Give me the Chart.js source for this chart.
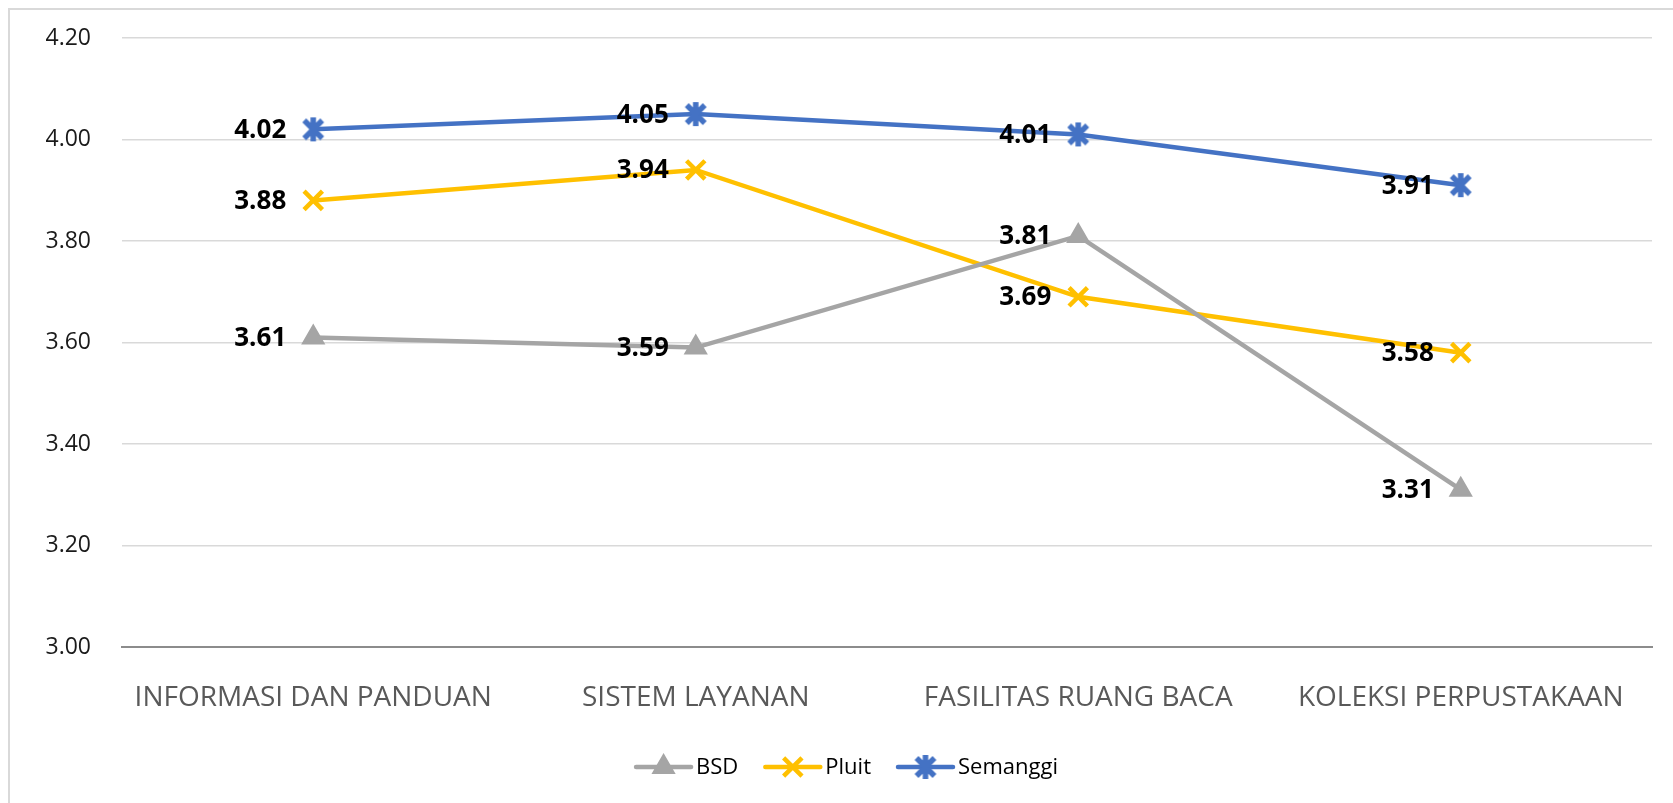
<!DOCTYPE html>
<html lang="id">
<head>
    <meta charset="UTF-8">
    <meta name="viewport" content="width=device-width, initial-scale=1.0">
    <title>Perbandingan Layanan Perpustakaan</title>
    <script src="https://cdnjs.cloudflare.com/ajax/libs/Chart.js/4.4.1/chart.umd.js"></script>
    <style>
        body {
            margin: 0;
            background: #ffffff;
        }
        #chartWrap {
            width: 1673px;
            height: 803px;
        }
    </style>
</head>
<body>
    <div id="chartWrap">
        <canvas id="libraryChart" width="1673" height="803"></canvas>
    </div>

    <script>
        // Data
        const categories = ['INFORMASI DAN PANDUAN', 'SISTEM LAYANAN', 'FASILITAS RUANG BACA', 'KOLEKSI PERPUSTAKAAN'];
        const bsdValues = [3.61, 3.59, 3.81, 3.31];
        const pluitValues = [3.88, 3.94, 3.69, 3.58];
        const semanggiValues = [4.02, 4.05, 4.01, 3.91];
        const yTicks = [3.00, 3.20, 3.40, 3.60, 3.80, 4.00, 4.20];

        const colors = {
            bsd: '#A5A5A5',
            pluit: '#FFC000',
            semanggi: '#4472C4'
        };

        const FONT = "'Open Sans', 'DejaVu Sans', sans-serif";

        // Excel style "star" marker: an X with a vertical bar
        function makeStarMarker(color) {
            const c = document.createElement('canvas');
            c.width = 28;
            c.height = 28;
            const g = c.getContext('2d');
            g.strokeStyle = color;
            g.lineWidth = 5.5;
            g.translate(14, 14);
            g.beginPath();
            g.moveTo(-9, -9); g.lineTo(9, 9);
            g.moveTo(9, -9); g.lineTo(-9, 9);
            g.moveTo(0, -12); g.lineTo(0, 12);
            g.stroke();
            return c;
        }
        const starMarker = makeStarMarker(colors.semanggi);

        // Frame around the chart
        const framePlugin = {
            id: 'frame',
            beforeDraw(chart) {
                const ctx = chart.ctx;
                ctx.save();
                ctx.fillStyle = '#ffffff';
                ctx.fillRect(0, 0, chart.width, chart.height);
                ctx.strokeStyle = '#d9d9d9';
                ctx.lineWidth = 2;
                ctx.beginPath();
                ctx.moveTo(9, chart.height);
                ctx.lineTo(9, 9);
                ctx.lineTo(chart.width, 9);
                ctx.stroke();
                ctx.restore();
            }
        };

        // Value labels drawn to the left of each point
        const valueLabelPlugin = {
            id: 'valueLabels',
            afterDatasetsDraw(chart) {
                const ctx = chart.ctx;
                ctx.save();
                ctx.font = 'bold 26px ' + FONT;
                ctx.fillStyle = '#000000';
                ctx.textAlign = 'right';
                ctx.textBaseline = 'middle';
                chart.data.datasets.forEach((ds, i) => {
                    const meta = chart.getDatasetMeta(i);
                    meta.data.forEach((pt, j) => {
                        ctx.fillText(ds.data[j].toFixed(2), pt.x - 27, pt.y + 1);
                    });
                });
                ctx.restore();
            }
        };

        // Legend with line + marker, like the spreadsheet legend
        const lineLegendPlugin = {
            id: 'lineLegend',
            afterDraw(chart) {
                const ctx = chart.ctx;
                const cy = 767;
                const lineLen = 55;
                const gap = 5;
                const spacing = 27;
                ctx.save();
                ctx.font = '22px ' + FONT;
                const items = chart.data.datasets.map(ds => ({
                    ds: ds,
                    textW: ctx.measureText(ds.label).width
                }));
                let total = 0;
                items.forEach((it, i) => {
                    total += lineLen + gap + it.textW + (i < items.length - 1 ? spacing : 0);
                });
                let x = 847 - total / 2;
                items.forEach(it => {
                    const ds = it.ds;
                    ctx.strokeStyle = ds.borderColor;
                    ctx.lineWidth = ds.borderWidth;
                    ctx.lineCap = 'round';
                    ctx.beginPath();
                    ctx.moveTo(x, cy);
                    ctx.lineTo(x + lineLen, cy);
                    ctx.stroke();
                    ctx.lineCap = 'butt';
                    ctx.fillStyle = ds.pointBackgroundColor;
                    ctx.strokeStyle = ds.pointBorderColor;
                    ctx.lineWidth = ds.pointBorderWidth;
                    Chart.helpers.drawPoint(ctx, {
                        pointStyle: ds.pointStyle,
                        radius: ds.pointRadius,
                        borderWidth: ds.pointBorderWidth,
                        rotation: 0
                    }, x + lineLen / 2, cy);
                    ctx.fillStyle = '#000000';
                    ctx.textAlign = 'left';
                    ctx.textBaseline = 'middle';
                    ctx.fillText(ds.label, x + lineLen + gap, cy + 1);
                    x += lineLen + gap + it.textW + spacing;
                });
                ctx.restore();
            }
        };

        function createChart() {
            const ctx = document.getElementById('libraryChart');

            new Chart(ctx, {
                type: 'line',
                data: {
                    labels: categories,
                    datasets: [
                        {
                            label: 'BSD',
                            data: bsdValues,
                            borderColor: colors.bsd,
                            backgroundColor: colors.bsd,
                            borderWidth: 4.5,
                            pointStyle: 'triangle',
                            pointRadius: 12,
                            pointBorderWidth: 2,
                            pointBackgroundColor: colors.bsd,
                            pointBorderColor: colors.bsd,
                            tension: 0
                        },
                        {
                            label: 'Pluit',
                            data: pluitValues,
                            borderColor: colors.pluit,
                            backgroundColor: colors.pluit,
                            borderWidth: 4.5,
                            pointStyle: 'crossRot',
                            pointRadius: 13,
                            pointBorderWidth: 4.5,
                            pointBackgroundColor: colors.pluit,
                            pointBorderColor: colors.pluit,
                            tension: 0
                        },
                        {
                            label: 'Semanggi',
                            data: semanggiValues,
                            borderColor: colors.semanggi,
                            backgroundColor: colors.semanggi,
                            borderWidth: 4.5,
                            pointStyle: starMarker,
                            pointRadius: 12,
                            pointBorderWidth: 5,
                            pointBackgroundColor: colors.semanggi,
                            pointBorderColor: colors.semanggi,
                            tension: 0
                        }
                    ]
                },
                options: {
                    responsive: false,
                    animation: false,
                    layout: {
                        padding: { top: 38, right: 21, left: 0, bottom: 0 }
                    },
                    plugins: {
                        legend: { display: false },
                        tooltip: { enabled: false }
                    },
                    scales: {
                        x: {
                            offset: true,
                            grid: { display: false },
                            border: { display: true, color: '#8c8c8c', width: 2 },
                            ticks: {
                                color: '#595959',
                                font: { family: FONT, size: 28 },
                                padding: 26,
                                maxRotation: 0,
                                autoSkip: false
                            },
                            afterFit(scale) {
                                scale.height = 156;
                            }
                        },
                        y: {
                            min: yTicks[0],
                            max: yTicks[yTicks.length - 1],
                            afterBuildTicks(scale) {
                                scale.ticks = yTicks.map(v => ({ value: v }));
                            },
                            grid: {
                                color: '#d9d9d9',
                                lineWidth: 1.5,
                                drawTicks: false
                            },
                            border: { display: false },
                            ticks: {
                                color: '#1a1a1a',
                                font: { family: FONT, size: 23 },
                                padding: 31,
                                callback: v => Number(v).toFixed(2)
                            },
                            afterFit(scale) {
                                scale.width = 122;
                                // tick padding should not push the plot area down
                                scale.paddingTop = 0;
                                scale.paddingBottom = 0;
                            }
                        }
                    }
                },
                plugins: [framePlugin, valueLabelPlugin, lineLegendPlugin]
            });
        }

        createChart();
    </script>
</body>
</html>
